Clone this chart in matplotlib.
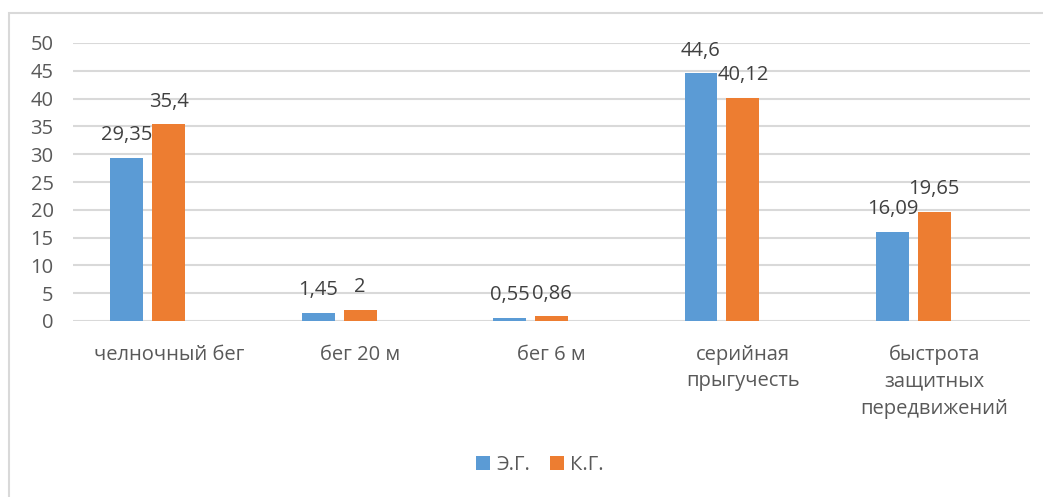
import numpy as np
import matplotlib.pyplot as plt
from matplotlib.patches import Rectangle

categories = ["челночный бег", "бег 20 м", "бег 6 м", "серийная\nпрыгучесть",
              "быстрота\nзащитных\nпередвижений"]
eg_values = [29.35, 1.45, 0.55, 44.6, 16.09]
kg_values = [35.4, 2, 0.86, 40.12, 19.65]
eg_labels = ["29,35", "1,45", "0,55", "44,6", "16,09"]
kg_labels = ["35,4", "2", "0,86", "40,12", "19,65"]
series_names = ["Э.Г.", "К.Г."]

blue = "#5b9bd5"
orange = "#ed7d31"
grid_c = "#d9d9d9"
tick_c = "#595959"
label_c = "#404040"

plt.rcParams['font.family'] = ['Open Sans', 'DejaVu Sans']
fs = 14.5

fig = plt.figure(figsize=(10.43, 4.97), dpi=100)
ax = fig.add_axes([73 / 1043, 1 - 321 / 497, (1030 - 73) / 1043, (321 - 43) / 497])

# chart border
fig.patches.append(Rectangle((9 / 1043, -0.05), 1.1, 1 - 13 / 497 + 0.05,
                             transform=fig.transFigure, fill=False,
                             edgecolor=grid_c, linewidth=1.5))

x = np.arange(len(categories))
w = 0.172
step = 0.219
b1 = ax.bar(x - step, eg_values, w, color=blue, label=series_names[0])
b2 = ax.bar(x, kg_values, w, color=orange, label=series_names[1])

for bars, labels in ((b1, eg_labels), (b2, kg_labels)):
    for r, t in zip(bars, labels):
        ax.annotate(t, (r.get_x() + r.get_width() / 2, r.get_height()),
                    xytext=(0, 9), textcoords="offset points",
                    ha="center", va="bottom", fontsize=fs, color=label_c)

ax.set_xlim(-0.5, len(categories) - 0.5)
ax.set_ylim(0, 50)
ax.set_yticks(range(0, 51, 5))
ax.yaxis.grid(True, color=grid_c, linewidth=1.5)
ax.set_axisbelow(True)
for s in ax.spines.values():
    s.set_visible(False)
ax.tick_params(length=0, labelsize=fs, colors=tick_c)
ax.tick_params(axis="y", pad=14)
ax.tick_params(axis="x", pad=17)
ax.set_xticks(x)
ax.set_xticklabels(categories, va="top", linespacing=1.45)

fig.legend(handles=[b1, b2], loc="center", bbox_to_anchor=(540 / 1043, 1 - 465 / 497),
           ncol=2, frameon=False, fontsize=fs, handlelength=0.7, handleheight=0.7,
           handletextpad=0.3, columnspacing=1.0, labelcolor=tick_c)

fig.savefig("out.png", dpi=100)
